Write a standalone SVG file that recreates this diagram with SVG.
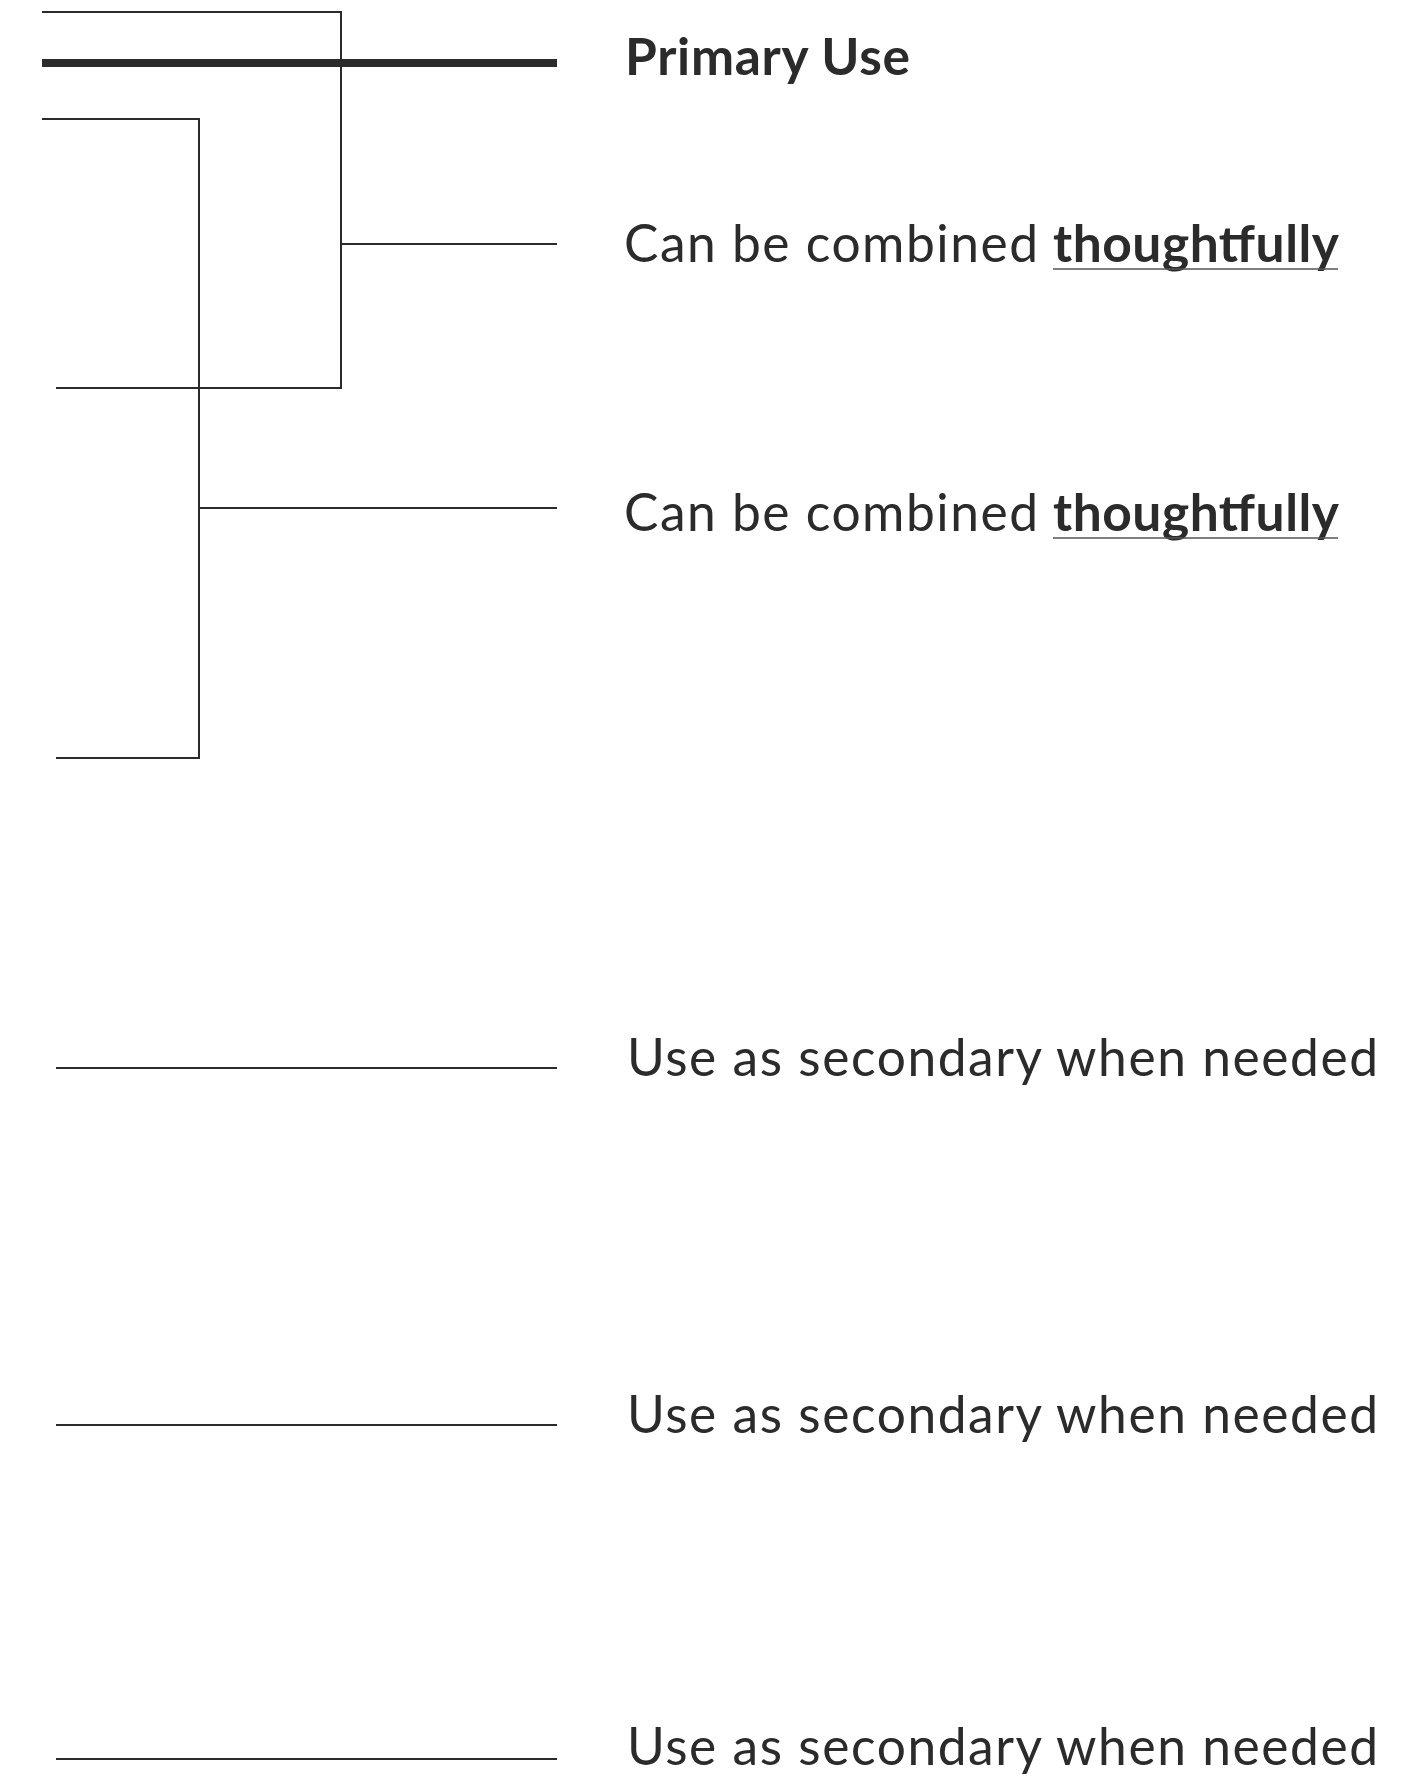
<svg xmlns="http://www.w3.org/2000/svg" width="1408" height="1779" viewBox="0 0 1408 1779">
<style>
.ln{stroke:#2b2b2b;stroke-width:2;fill:none;stroke-linecap:butt;stroke-linejoin:miter}
.thick{stroke:#2b2b2b;stroke-width:8;fill:none}
.t{font-family:Lato,"Noto Sans",sans-serif;font-size:51.5px;fill:#2b2b2b}
.b{font-weight:bold}
.ul{stroke:#555;stroke-width:1.5}
</style>
<rect width="1408" height="1779" fill="#ffffff"/>
<g id="connectors">
<line class="thick" x1="42" y1="63" x2="557" y2="63"/>
<polyline class="ln" points="42,12 341,12 341,388 56,388"/>
<line class="ln" x1="341" y1="244" x2="557" y2="244"/>
<polyline class="ln" points="42,119 199,119 199,758 56,758"/>
<line class="ln" x1="199" y1="508" x2="557" y2="508"/>
<line class="ln" x1="56" y1="1068" x2="557" y2="1068"/>
<line class="ln" x1="56" y1="1425" x2="557" y2="1425"/>
<line class="ln" x1="56" y1="1759" x2="557" y2="1759"/>
</g>
<g id="node-primary">
<text class="t b" x="625" y="75" textLength="285" lengthAdjust="spacing">Primary Use</text>
</g>
<g id="node-combined-1">
<text class="t" x="624" y="262" textLength="414" lengthAdjust="spacing">Can be combined</text>
<text class="t b" x="1053" y="262" textLength="286" lengthAdjust="spacing">thoughtfully</text>
<line class="ul" x1="1053" y1="269" x2="1338" y2="269"/>
</g>
<g id="node-combined-2">
<text class="t" x="624" y="531" textLength="414" lengthAdjust="spacing">Can be combined</text>
<text class="t b" x="1053" y="531" textLength="286" lengthAdjust="spacing">thoughtfully</text>
<line class="ul" x1="1053" y1="538" x2="1338" y2="538"/>
</g>
<g id="node-secondary-1">
<text class="t" x="627" y="1076" textLength="751" lengthAdjust="spacing">Use as secondary when needed</text>
</g>
<g id="node-secondary-2">
<text class="t" x="627" y="1433" textLength="751" lengthAdjust="spacing">Use as secondary when needed</text>
</g>
<g id="node-secondary-3">
<text class="t" x="627" y="1765" textLength="751" lengthAdjust="spacing">Use as secondary when needed</text>
</g>
</svg>
